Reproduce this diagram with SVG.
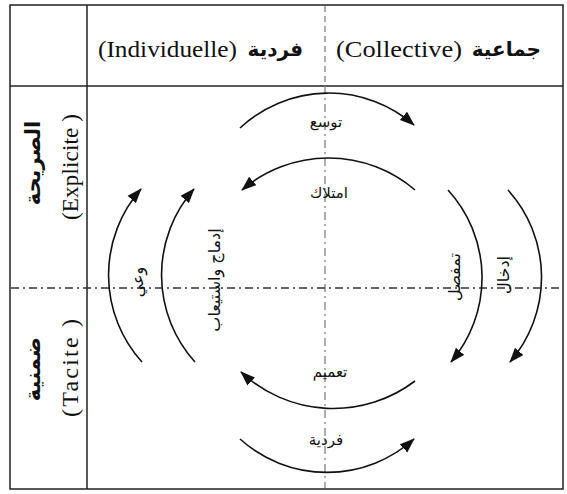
<svg xmlns="http://www.w3.org/2000/svg" width="567" height="494" viewBox="0 0 567 494">
<style>
.grid{stroke:#222;stroke-width:1.5;fill:none}
.axisv{stroke:#8a8a8a;stroke-width:1.4;fill:none}
.axish{stroke:#333;stroke-width:1.4;fill:none;stroke-dasharray:8 4 2 4}
.arc{stroke:#111;stroke-width:1.6;fill:none;marker-end:url(#ah)}
.lat{font-family:"Liberation Serif","Times New Roman",serif;fill:#111}
.ar{font-family:"DejaVu Sans","Noto Sans",sans-serif;fill:#111}
.arb{font-family:"DejaVu Sans","Noto Sans",sans-serif;font-weight:bold;fill:#111}
</style>
<defs>
<marker id="ah" markerUnits="userSpaceOnUse" markerWidth="16" markerHeight="12" refX="14" refY="6" orient="auto">
<path d="M0,0.5 L15,6 L0,11.5 Z" fill="#111"/>
</marker>
</defs>
<rect width="567" height="494" fill="#fff"/>
<g id="table">
<rect class="grid" x="10" y="5" width="553" height="484"/>
<line class="grid" x1="10" y1="86" x2="563" y2="86"/>
<line class="grid" x1="87" y1="5" x2="87" y2="489"/>
<line class="axisv" x1="325" y1="6" x2="325" y2="86" stroke-dasharray="6 4"/>
<line class="axisv" x1="325" y1="86" x2="325" y2="488" stroke-dasharray="8 4 2 4"/>
<line class="axish" x1="11" y1="288" x2="562" y2="288"/>
</g>
<g id="header-individual">
<text class="lat" x="98" y="57" font-size="24" textLength="139" lengthAdjust="spacingAndGlyphs">(Individuelle)</text>
<text class="arb" x="303" y="56" font-size="20" text-anchor="end">فردية</text>
</g>
<g id="header-collective">
<text class="lat" x="336" y="57" font-size="24" textLength="126" lengthAdjust="spacingAndGlyphs">(Collective)</text>
<text class="arb" x="541" y="56" font-size="20" text-anchor="end">جماعية</text>
</g>
<g id="row-explicit">
<text class="arb" transform="translate(40,163) rotate(-90)" font-size="21" text-anchor="middle">الصريحة</text>
<text class="lat" transform="translate(78,167) rotate(-90)" font-size="23" text-anchor="middle" textLength="106" lengthAdjust="spacing">(Explicite )</text>
</g>
<g id="row-tacit">
<text class="arb" transform="translate(40,369) rotate(-90)" font-size="21" text-anchor="middle">ضمنية</text>
<text class="lat" transform="translate(78,368) rotate(-90)" font-size="24" text-anchor="middle" textLength="98" lengthAdjust="spacing">(Tacite )</text>
</g>
<g id="connectors">
<path class="arc" d="M240,128 A130,130 0 0 1 414,125"/>
<path class="arc" d="M415,190 A133,133 0 0 0 242,190"/>
<path class="arc" d="M142,362 A130,130 0 0 1 141,189"/>
<path class="arc" d="M195,362 A130,130 0 0 1 194,189"/>
<path class="arc" d="M448,190 A130,130 0 0 1 451,362"/>
<path class="arc" d="M508,190 A130,130 0 0 1 510,362"/>
<path class="arc" d="M415,381 A135,135 0 0 1 241,372"/>
<path class="arc" d="M240,439 A130,130 0 0 0 414,439"/>
</g>
<g id="label-tawassu"><text class="ar" x="326" y="127" font-size="15" text-anchor="middle">توسع</text></g>
<g id="label-imtilak"><text class="ar" x="329" y="198" font-size="15" text-anchor="middle">امتلاك</text></g>
<g id="label-tamim"><text class="ar" x="330" y="377" font-size="15" text-anchor="middle">تعميم</text></g>
<g id="label-fardiya"><text class="ar" x="326" y="445" font-size="15" text-anchor="middle">فردية</text></g>
<g id="label-wai"><text class="ar" transform="translate(143,282) rotate(-90)" font-size="16" text-anchor="middle">وعي</text></g>
<g id="label-idmaj"><text class="ar" transform="translate(220,280) rotate(-90)" font-size="16" text-anchor="middle">إدماج واستيعاب</text></g>
<g id="label-tamafsul"><text class="ar" transform="translate(460,277) rotate(-90)" font-size="16" text-anchor="middle">تمفصل</text></g>
<g id="label-idkhal"><text class="ar" transform="translate(509,275) rotate(-90)" font-size="16" text-anchor="middle">إدخال</text></g>
</svg>
